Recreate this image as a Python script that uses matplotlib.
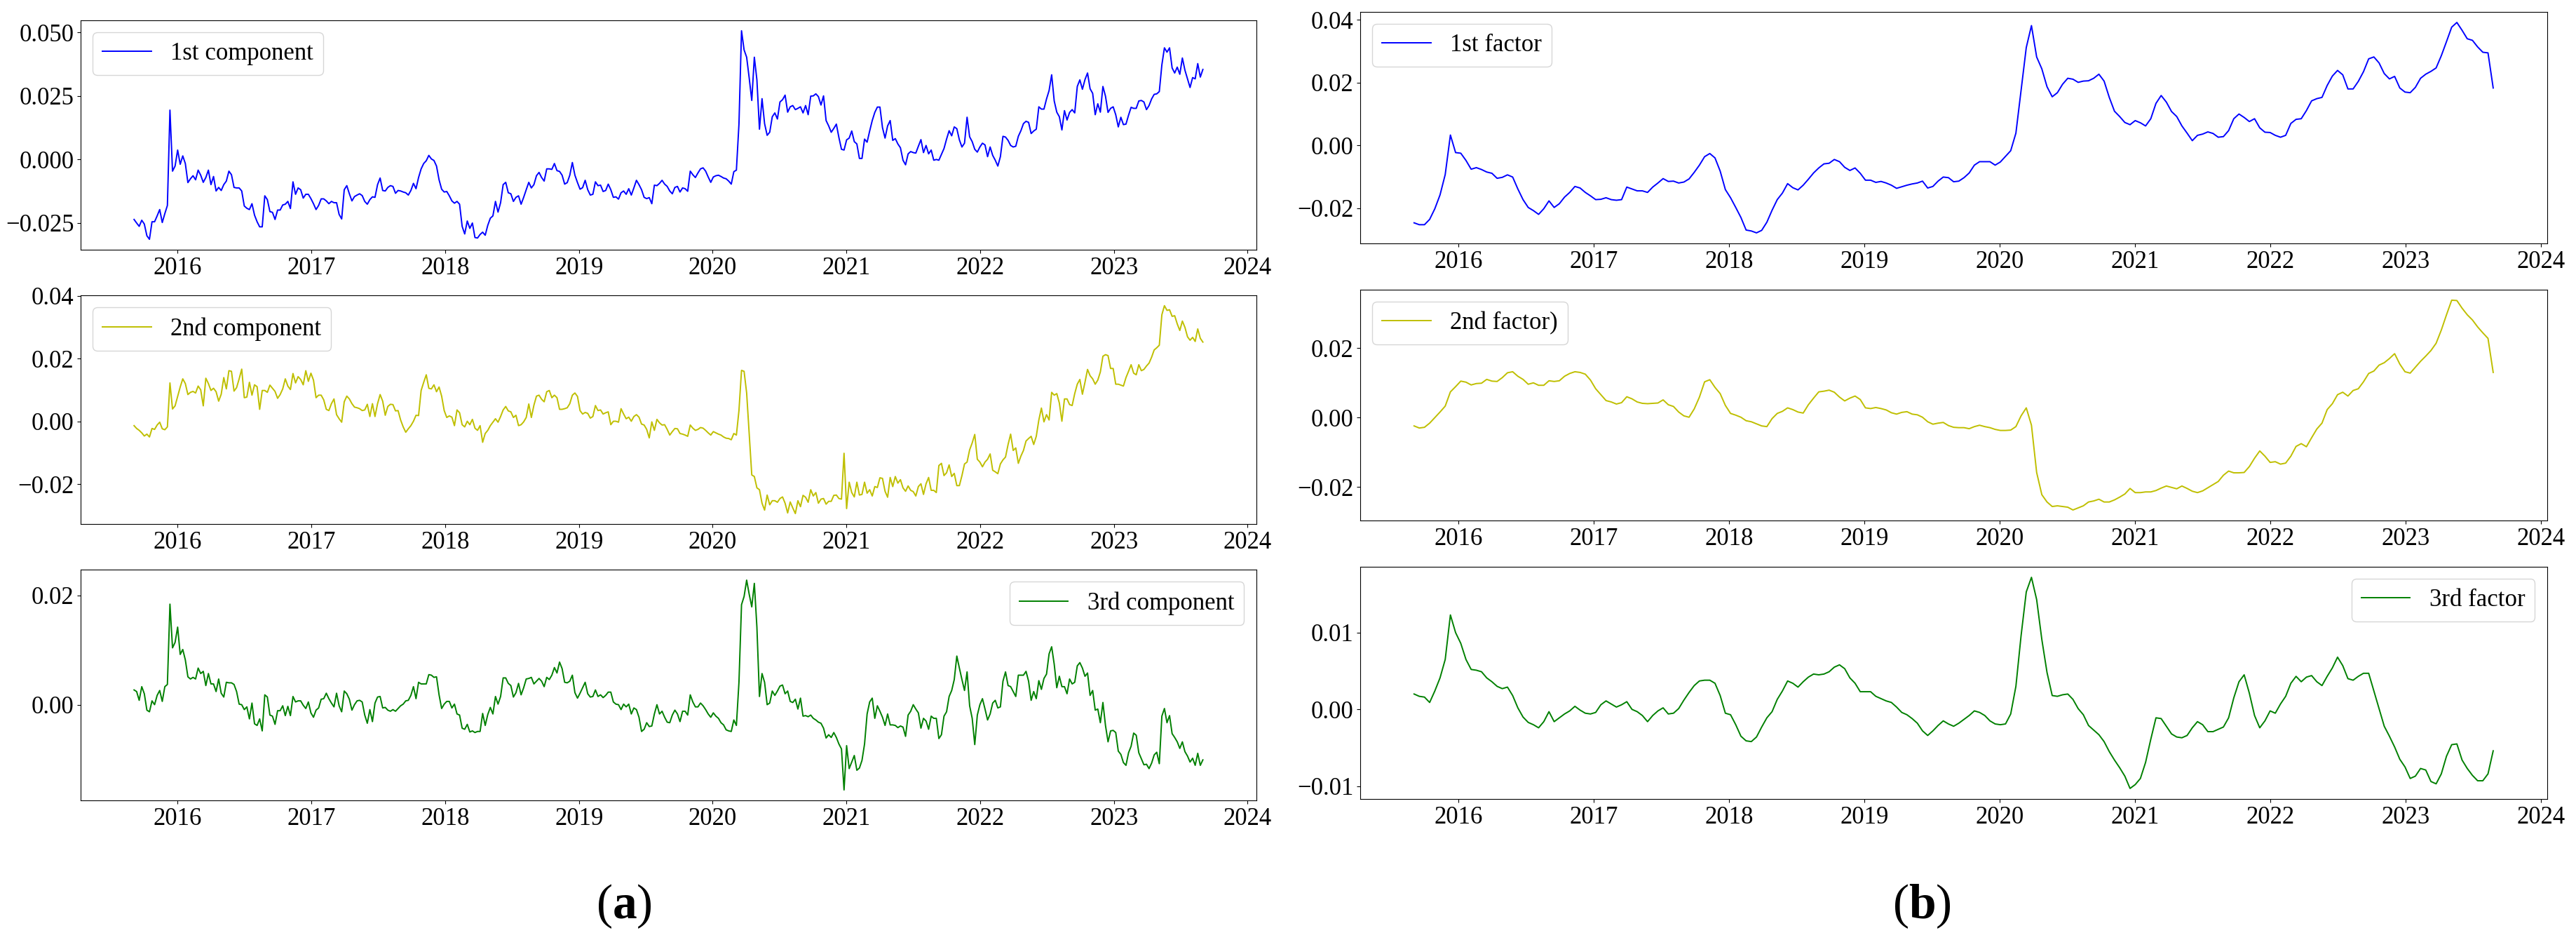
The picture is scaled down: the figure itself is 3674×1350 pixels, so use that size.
import numpy as np
import pandas as pd
import matplotlib
matplotlib.use('Agg')
import matplotlib.pyplot as plt
import matplotlib.dates as mdates

plt.rcParams['font.family'] = ['Liberation Serif', 'DejaVu Serif']
plt.rcParams['mathtext.fontset'] = 'custom'
plt.rcParams['mathtext.rm'] = 'Liberation Serif'
plt.rcParams['mathtext.bf'] = 'Liberation Serif:bold'
FONT_SIZE = 25

# weekly principal components (left) and smoothed factors (right), values in 1e-3
weeks = pd.date_range('2015-09-04', periods=418, freq='7D')
fortnights = pd.date_range('2015-09-04', periods=209, freq='14D')

comp_1 = np.array([
    -23.6, -25.0, -26.3, -23.9, -25.4, -30.0, -31.4, -24.5, -24.5, -22.2,
    -19.7, -24.8, -21.3, -18.1, 19.4, -4.6, -2.6, 3.7, -1.9, 1.4,
    -1.6, -9.1, -7.6, -6.4, -8.0, -4.2, -6.2, -9.0, -7.1, -4.2,
    -9.9, -6.7, -12.4, -11.0, -12.2, -9.9, -8.5, -4.6, -6.0, -11.0,
    -11.2, -11.2, -12.4, -18.3, -19.2, -19.7, -17.4, -21.9, -24.5, -26.5,
    -26.5, -14.3, -15.8, -20.5, -20.8, -23.6, -19.9, -19.9, -17.9, -17.6,
    -16.5, -19.3, -8.8, -13.7, -11.2, -11.9, -15.2, -13.7, -13.7, -15.4,
    -17.4, -19.7, -18.1, -15.5, -15.5, -16.3, -17.4, -16.5, -17.0, -17.0,
    -21.6, -23.4, -11.9, -10.3, -13.5, -16.3, -14.6, -14.0, -13.5, -14.2,
    -16.5, -17.6, -15.8, -14.7, -14.9, -9.9, -7.3, -12.2, -12.4, -11.0,
    -10.3, -10.6, -13.3, -12.2, -12.4, -12.8, -13.1, -14.0, -12.2, -9.4,
    -11.5, -7.1, -3.7, -1.6, -0.5, 1.6, 0.2, -0.4, -2.6, -8.0,
    -11.7, -12.8, -12.6, -14.3, -16.3, -17.2, -16.5, -17.6, -26.3, -29.3,
    -24.2, -27.1, -25.0, -30.7, -30.9, -29.5, -28.6, -29.8, -25.9, -23.1,
    -22.2, -16.5, -20.7, -17.0, -9.9, -9.0, -13.1, -13.5, -16.5, -14.9,
    -14.3, -17.6, -14.9, -11.9, -9.0, -11.2, -9.9, -6.4, -5.1, -7.1,
    -8.5, -3.7, -3.7, -3.9, -1.6, -4.4, -4.7, -6.2, -9.7, -9.1,
    -6.2, -1.2, -6.2, -9.1, -11.7, -11.1, -8.2, -11.9, -14.0, -13.7,
    -8.8, -10.3, -10.1, -12.6, -12.2, -9.7, -11.9, -14.9, -14.7, -15.6,
    -13.1, -12.4, -13.7, -11.5, -14.0, -11.2, -8.2, -9.9, -11.9, -14.9,
    -15.4, -15.0, -17.4, -10.1, -10.3, -9.4, -8.2, -9.7, -10.6, -12.4,
    -13.5, -11.0, -10.6, -12.8, -11.2, -11.5,
    -12.5, -4.6, -6.0, -7.1, -5.3, -3.7, -3.3, -4.6, -6.9, -9.0,
    -6.9, -6.4, -6.2, -6.7, -7.3, -7.6, -8.5, -9.7, -4.8, -4.2,
    13.9, 50.6, 43.1, 40.2, 32.0, 23.2, 40.2, 31.3, 11.9, 23.9,
    14.1, 9.5, 10.7, 16.8, 18.3, 15.9, 22.6, 23.5, 25.3, 18.6,
    20.7, 21.2, 19.6, 20.1, 20.7, 18.3, 21.2, 17.6, 24.9, 25.0,
    25.8, 24.7, 21.4, 25.0, 15.3, 13.2, 10.7, 12.2, 13.9, 8.6,
    4.0, 3.7, 7.7, 8.4, 11.2, 7.0, 6.1, 0.4, 0.4, 8.0,
    6.8, 11.2, 15.3, 18.5, 20.6, 20.6, 12.5, 8.4, 13.2, 15.3,
    7.5, 8.2, 6.1, 4.6, -0.3, -2.1, 2.2, 3.1, 2.7, 2.5,
    5.2, 7.8, 2.7, 5.5, 2.2, 3.7, -0.3, 0.0, -0.3, 2.0,
    4.3, 8.0, 11.3, 9.3, 12.8, 12.1, 7.7, 4.9, 6.4, 16.6,
    8.9, 7.0, 4.0, 2.9, 4.9, 6.4, 5.7, 1.1, 4.9, 1.6,
    -0.3, -2.6, 1.1, 9.1, 8.8, 7.5, 5.5, 4.9, 5.2, 9.1,
    11.3, 14.1, 15.0, 14.6, 10.2, 11.2, 11.9, 20.7, 19.8, 19.8,
    23.8, 27.1, 33.3, 23.0, 18.6, 16.8, 11.6, 19.2, 15.5, 18.5,
    19.6, 18.3, 28.7, 31.3, 27.6, 31.4, 34.0, 27.8, 26.0, 17.6,
    21.9, 18.6, 28.7, 24.9, 18.5, 20.1, 20.7, 17.6, 12.8, 16.6,
    13.7, 13.9, 17.4, 20.5, 20.1, 20.1, 23.0, 23.2, 22.6, 19.6,
    21.2, 23.8, 25.6, 25.8, 26.7, 37.2, 43.9, 42.2, 43.9, 36.0,
    34.0, 36.3, 33.5, 39.9, 35.1, 31.7, 28.3, 32.2, 31.7, 37.7,
    32.4, 35.4]) / 1000

comp_2 = np.array([
    -1.3, -2.2, -2.8, -3.6, -4.6, -4.0, -4.9, -2.2, -2.5, -1.1,
    -0.2, -2.3, -2.6, -1.7, 12.3, 4.0, 5.0, 8.0, 11.0, 13.6,
    12.1, 8.6, 9.3, 9.6, 9.1, 11.3, 10.1, 5.0, 13.8, 12.1,
    9.9, 10.6, 9.5, 6.5, 8.7, 14.0, 10.4, 16.2, 16.0, 9.7,
    10.8, 13.6, 16.7, 7.6, 7.8, 12.5, 8.4, 11.7, 11.1, 3.9,
    9.9, 9.9, 9.3, 11.6, 10.6, 9.6, 7.4, 8.6, 10.4, 13.6,
    11.3, 10.2, 15.3, 12.3, 14.3, 13.4, 11.7, 16.2, 12.8, 15.4,
    13.2, 7.6, 8.4, 8.4, 6.9, 3.9, 3.5, 5.7, 7.2, 2.2,
    0.9, -0.2, 6.3, 8.1, 7.2, 5.7, 4.6, 4.4, 4.1, 3.5,
    3.7, 5.5, 1.6, 5.7, 1.6, 5.7, 8.6, 6.5, 2.0, 4.8,
    5.5, 5.4, 3.4, 3.5, 0.5, -1.7, -3.4, -2.3, -1.3, 0.1,
    2.0, 1.9, 9.9, 12.5, 14.9, 10.6, 10.4, 11.7, 9.5, 11.0,
    8.1, 3.5, 1.3, 1.8, 1.4, -1.3, 3.7, 2.8, -1.0, -1.7,
    0.1, -1.0, 0.7, -2.1, -2.8, -1.3, -6.6, -3.8, -2.8, -1.3,
    -0.2, 0.9, -0.2, 1.6, 3.7, 4.8, 3.4, 3.1, 1.3, 2.0,
    -1.3, -1.0, -0.1, 1.3, 5.6, 1.3, 5.2, 8.1, 8.4, 7.1,
    6.3, 9.5, 9.9, 7.6, 8.4, 7.6, 3.9, 3.9, 4.1, 4.4,
    5.7, 8.4, 9.1, 8.0, 3.5, 2.4, 2.9, 2.6, 1.1, 1.6,
    5.1, 3.5, 3.7, 2.4, 2.8, 3.1, -1.0, 0.1, 0.1, -0.2,
    4.1, 2.4, 0.9, 1.4, 0.1, 1.6, 2.2, 1.4, -0.8, -1.1,
    -2.5, -5.2, -0.1, -2.8, 0.7, -0.4, -1.1, -1.0, -2.5, -4.3,
    -3.2, -2.2, -2.3, -3.8, -4.0, -4.3,
    -4.7, -1.1, -2.1, -2.8, -2.5, -1.9, -2.1, -2.8, -3.6, -4.3,
    -3.2, -3.6, -4.0, -4.3, -4.9, -5.3, -5.4, -5.8, -3.8, -4.3,
    3.5, 16.3, 16.0, 9.1, -4.0, -17.0, -17.5, -21.1, -21.7, -26.0,
    -28.2, -23.4, -26.5, -25.2, -25.2, -25.7, -24.5, -24.0, -26.0, -29.1,
    -25.6, -27.5, -29.3, -25.2, -27.1, -23.5, -24.1, -25.7, -21.7, -23.7,
    -22.6, -26.0, -24.7, -24.5, -26.3, -25.4, -25.4, -23.5, -23.4, -24.5,
    -24.7, -10.1, -27.7, -19.3, -22.6, -24.0, -19.3, -23.4, -23.2, -19.3,
    -22.8, -21.7, -23.7, -20.7, -21.0, -17.9, -18.1, -22.2, -24.1, -17.8,
    -20.7, -17.5, -19.6, -18.5, -21.1, -22.2, -20.5, -21.9, -22.3, -23.7,
    -20.7, -19.8, -23.2, -19.8, -17.8, -21.9, -21.9, -22.6, -14.0, -13.3,
    -17.2, -16.3, -13.8, -17.5, -16.5, -20.4, -20.4, -17.2, -13.5, -12.9,
    -9.0, -6.8, -4.1, -12.0, -12.9, -14.4, -12.9, -12.0, -10.3, -15.5,
    -16.0, -16.6, -13.5, -12.2, -11.3, -7.3, -4.0, -9.2, -8.4, -13.3,
    -11.0, -9.2, -6.2, -5.4, -4.7, -7.3, -4.7, 0.5, 4.3, -0.1,
    2.2, 0.5, 9.3, 8.4, 8.9, 5.9, 0.1, 7.2, 7.2, 5.4,
    5.1, 8.9, 11.9, 13.4, 8.7, 12.5, 16.6, 14.6, 13.6, 11.9,
    13.2, 15.8, 20.8, 21.3, 21.0, 16.9, 16.9, 11.9, 11.9, 11.6,
    11.3, 14.0, 16.0, 18.1, 15.4, 14.9, 18.1, 16.2, 16.6, 17.7,
    18.6, 20.5, 22.8, 23.5, 24.3, 34.0, 36.9, 35.4, 35.6, 33.5,
    33.7, 31.1, 29.0, 32.0, 30.0, 27.0, 25.9, 26.8, 25.5, 29.5,
    26.5, 25.3]) / 1000

comp_3 = np.array([
    2.7, 2.4, 0.8, 3.3, 2.0, -1.0, -1.3, 0.7, 0.0, 1.7,
    2.6, 0.6, 3.3, 3.7, 18.4, 10.4, 11.4, 14.2, 9.2, 10.1,
    8.2, 5.1, 4.7, 5.0, 4.7, 6.7, 5.7, 6.1, 3.5, 5.7,
    3.8, 3.8, 2.4, 4.7, 2.1, 1.4, 4.1, 4.0, 4.0, 3.7,
    2.4, 0.1, 0.0, -0.9, -0.4, -2.6, 0.3, -3.5, -3.8, -2.6,
    -4.8, 1.8, 1.4, -1.9, -2.1, -3.6, -1.1, -1.1, -0.2, -2.0,
    -0.3, -2.0, 1.5, 0.5, 0.7, 0.7, -0.1, -0.7, 0.5, -1.5,
    -2.3, -1.0, -0.6, 1.0, 1.1, 2.1, 1.1, 0.3, -0.4, 2.1,
    -0.2, -1.3, 2.5, 2.0, 1.0, -1.0, 0.0, 0.7, 0.8, 0.5,
    -1.9, -3.4, -0.9, -3.1, 0.3, 1.4, 1.5, -0.6, -0.5, -1.0,
    -1.2, -0.9, -1.2, -0.7, -0.2, 0.1, 0.7, 0.8, 1.7, 3.3,
    1.1, 4.1, 3.8, 3.8, 3.8, 5.5, 5.4, 5.0, 5.1, 1.8,
    -0.7, 0.1, 0.6, 0.6, -0.6, 0.1, -1.7, -1.9, -4.3, -4.5,
    -3.6, -5.0, -4.8, -5.1, -4.9, -4.9, -1.6, -3.8, -1.8, -0.5,
    -1.7, 1.5, 0.1, 1.5, 4.9, 4.9, 3.9, 3.5, 1.4, 2.2,
    3.9, 1.8, 3.1, 4.7, 4.8, 5.0, 3.8, 4.3, 4.8, 4.3,
    3.3, 5.0, 4.6, 5.4, 6.8, 5.8, 7.8, 6.6, 4.1, 4.0,
    4.3, 5.4, 2.2, 1.2, 2.1, 3.1, 4.1, 2.0, 1.4, 1.5,
    2.7, 1.5, 1.8, 1.3, 1.7, 2.3, 2.3, 0.5, 0.1, 0.0,
    -0.9, 0.1, -0.4, 0.1, -1.7, -0.6, -0.9, -2.3, -4.9, -4.5,
    -3.3, -4.0, -3.9, -1.7, 0.0, -1.7, -1.2, -2.3, -3.2, -3.3,
    -1.9, -1.0, -1.7, -3.1, -1.2, -1.2,
    -1.9, 1.8, 0.5, -0.4, -0.4, 0.3, -0.2, -0.9, -1.7, -2.3,
    -1.5, -2.1, -2.5, -3.3, -3.7, -4.6, -4.8, -4.9, -2.8, -3.8,
    4.1, 18.3, 19.8, 22.8, 20.2, 17.9, 22.2, 14.2, 1.5, 5.7,
    4.1, 0.0, 0.3, 2.5, 1.7, 2.5, 3.4, 3.6, 2.0, 2.5,
    0.6, 0.4, 1.0, -0.8, 1.2, -2.1, -2.0, -2.2, -1.9, -2.5,
    -2.8, -3.2, -3.4, -4.3, -6.1, -5.5, -6.0, -5.1, -6.0, -7.2,
    -8.1, -15.6, -7.5, -11.7, -10.5, -9.3, -12.0, -11.6, -10.2, -7.2,
    -1.7, 0.5, 1.2, -2.5, -0.2, -1.2, -2.3, -3.8, -1.7, -3.7,
    -3.7, -3.8, -4.2, -3.9, -4.1, -5.8, -1.9, -1.2, 0.0, -0.8,
    -1.5, -4.3, -2.5, -3.0, -4.5, -2.1, -2.5, -2.5, -6.2, -5.5,
    -2.1, -1.3, 1.5, 2.6, 4.6, 8.9, 6.7, 4.6, 2.6, 6.0,
    -0.2, -2.5, -7.3, -1.9, 0.0, 1.1, -0.8, -2.8, -1.7, 0.3,
    0.8, -0.6, -0.4, 4.3, 6.0, 3.5, 3.3, 2.4, 1.5, 5.4,
    5.4, 5.4, 6.1, 4.3, 0.8, 2.4, 1.1, 4.4, 2.8, 4.8,
    5.6, 9.3, 10.6, 7.4, 3.1, 5.2, 3.3, 3.3, 2.0, 4.7,
    3.8, 4.1, 7.1, 7.7, 6.7, 5.2, 5.8, 1.7, 2.6, -1.0,
    -0.8, -3.3, 0.4, -3.8, -6.8, -4.8, -4.7, -5.1, -8.5, -9.1,
    -10.6, -11.1, -8.8, -7.6, -5.2, -5.6, -8.8, -9.9, -11.0, -10.9,
    -11.7, -10.7, -9.2, -8.7, -10.8, -2.1, -0.7, -3.3, -2.0, -5.3,
    -6.0, -6.8, -8.0, -6.8, -8.6, -9.4, -10.5, -9.8, -11.1, -8.9,
    -11.1, -10.1]) / 1000

factor_1 = np.array([
    -24.7, -25.3, -25.3, -23.6, -20.2, -15.8, -9.3, 3.3, -2.3, -2.5,
    -4.8, -7.6, -7.1, -7.7, -8.5, -8.9, -10.5, -10.2, -9.4, -10.1,
    -13.9, -17.3, -19.8, -20.8, -22.0, -20.2, -17.7, -19.8, -18.6, -16.5,
    -15.0, -13.1, -13.6, -15.0, -16.1, -17.3, -17.2, -16.7, -17.3, -17.5,
    -17.3, -13.3, -13.9, -14.5, -14.5, -15.0, -13.3, -12.0, -10.6, -11.5,
    -11.4, -12.0, -11.7, -10.7, -8.6, -6.3, -3.6, -2.6, -4.0, -8.2,
    -14.1, -16.7, -19.8, -23.0, -27.0, -27.3, -27.9, -27.1, -24.5, -20.7,
    -17.3, -15.2, -12.2, -13.5, -14.2, -12.7, -10.8, -8.8, -7.2, -5.9,
    -5.7, -4.5, -5.2, -7.0, -8.0, -7.2, -8.9, -11.1, -11.1, -11.8,
    -11.5, -12.0, -12.7, -13.7, -13.2, -12.7, -12.3, -12.0, -11.4, -13.6,
    -13.1, -11.4, -10.1, -10.3, -11.6, -11.4, -10.3, -8.8, -6.3, -5.2,
    -5.2, -5.2, -6.3, -5.3, -3.5, -1.7, 3.9, 17.6, 31.2, 38.2,
    28.2, 24.4, 18.7, 15.5, 16.8, 19.5, 21.4, 21.1, 20.1, 20.5,
    20.6, 21.4, 22.7, 20.5, 15.3, 10.9, 9.2, 7.3, 6.6, 7.9,
    7.2, 6.2, 8.5, 13.4, 15.9, 13.8, 10.8, 9.2, 6.2, 3.9,
    1.5, 3.2, 3.6, 4.3, 3.8, 2.6, 2.8, 4.7, 8.5, 10.0,
    8.9, 7.6, 8.5, 5.6, 4.2, 4.1, 3.2, 2.6, 3.2, 7.0,
    8.3, 8.5, 11.1, 14.2, 14.9, 15.3, 19.1, 22.1, 23.9, 22.5,
    18.0, 18.0, 20.4, 23.5, 27.6, 28.2, 26.3, 22.9, 21.2, 22.0,
    18.3, 17.0, 16.8, 18.5, 21.4, 22.7, 23.6, 24.7, 28.6, 33.1,
    37.7, 39.2, 36.7, 34.0, 33.5, 31.4, 29.7, 29.5, 18.3]) / 1000

factor_2 = np.array([
    -2.4, -3.0, -2.8, -1.6, 0.0, 1.6, 3.3, 7.4, 8.9, 10.5,
    10.2, 9.4, 9.8, 9.9, 11.0, 10.5, 10.4, 11.5, 12.9, 13.2,
    11.9, 11.0, 9.6, 10.0, 9.3, 9.3, 10.6, 10.4, 10.6, 11.9,
    12.7, 13.2, 13.0, 12.5, 10.8, 8.3, 6.6, 4.9, 4.5, 3.9,
    4.3, 6.0, 5.4, 4.5, 4.1, 4.0, 4.1, 4.2, 5.1, 3.7,
    3.2, 1.6, 0.5, 0.1, 2.5, 5.9, 10.3, 10.9, 8.7, 6.9,
    3.5, 1.2, 0.7, 0.1, -0.9, -1.2, -1.8, -2.4, -2.6, -0.3,
    1.2, 1.8, 2.8, 2.3, 1.6, 1.3, 3.7, 5.6, 7.4, 7.6,
    7.9, 7.3, 5.9, 4.8, 5.6, 6.2, 5.2, 2.8, 2.6, 2.9,
    2.6, 2.2, 1.4, 1.0, 1.5, 1.7, 1.0, 0.8, 0.1, -1.2,
    -1.9, -1.6, -1.4, -2.3, -2.8, -2.9, -2.9, -3.2, -2.6, -2.2,
    -2.6, -2.9, -3.4, -3.7, -3.7, -3.6, -2.6, 0.5, 2.8, -2.2,
    -15.8, -22.2, -24.3, -25.6, -25.4, -25.6, -25.8, -26.6, -26.0, -25.4,
    -24.3, -24.0, -23.5, -24.3, -24.3, -23.7, -22.9, -22.0, -20.4, -21.6,
    -21.6, -21.4, -21.4, -21.0, -20.3, -19.7, -20.1, -20.5, -19.7, -20.4,
    -21.2, -21.6, -21.1, -20.2, -19.3, -18.4, -16.6, -15.4, -15.9, -15.9,
    -15.8, -14.1, -11.7, -9.6, -11.1, -12.9, -12.7, -13.4, -13.1, -11.1,
    -8.3, -7.5, -8.4, -5.8, -3.3, -1.6, 2.3, 4.0, 6.6, 7.3,
    6.2, 7.8, 8.3, 10.3, 12.7, 13.4, 15.1, 15.8, 17.0, 18.4,
    15.4, 13.2, 12.8, 14.5, 16.2, 17.7, 19.3, 21.4, 25.2, 29.6,
    33.8, 33.7, 31.5, 29.6, 28.1, 26.1, 24.4, 22.8, 13.0]) / 1000

factor_3 = np.array([
    2.0, 1.7, 1.6, 0.9, 2.4, 4.1, 6.5, 12.3, 10.0, 8.6,
    6.5, 5.2, 5.1, 4.9, 4.1, 3.6, 3.0, 2.7, 2.9, 1.8,
    0.2, -1.0, -1.7, -2.0, -2.4, -1.6, -0.3, -1.6, -1.1, -0.6,
    -0.2, 0.4, -0.1, -0.5, -0.6, -0.4, 0.6, 1.1, 0.7, 0.3,
    0.6, 1.0, 0.0, -0.3, -0.8, -1.6, -0.8, -0.2, 0.2, -0.6,
    -0.5, 0.1, 1.2, 2.2, 3.1, 3.7, 3.8, 3.8, 3.4, 1.8,
    -0.5, -0.7, -2.0, -3.5, -4.1, -4.2, -3.6, -2.3, -1.1, -0.3,
    1.3, 2.4, 3.7, 3.4, 2.9, 3.6, 4.2, 4.6, 4.5, 4.6,
    4.9, 5.5, 5.8, 5.3, 4.1, 3.4, 2.3, 2.3, 2.3, 1.7,
    1.4, 1.1, 0.9, 0.3, -0.4, -0.7, -1.2, -1.8, -2.8, -3.4,
    -2.8, -2.1, -1.5, -1.9, -2.2, -1.8, -1.3, -0.8, -0.2, -0.4,
    -0.8, -1.5, -1.9, -2.0, -1.9, -0.6, 3.0, 9.6, 15.3, 17.2,
    14.3, 9.1, 4.8, 1.8, 1.7, 1.9, 2.0, 1.3, 0.1, -0.7,
    -2.1, -2.7, -3.3, -4.2, -5.5, -6.6, -7.6, -8.7, -10.3, -9.8,
    -9.0, -6.9, -3.9, -1.1, -1.2, -2.2, -3.2, -3.6, -3.7, -3.4,
    -2.4, -1.6, -2.0, -2.9, -2.9, -2.6, -2.3, -1.1, 1.5, 3.6,
    4.5, 2.1, -0.8, -2.4, -1.5, -0.2, -0.5, 0.7, 1.7, 3.4,
    4.3, 3.6, 4.2, 4.4, 3.6, 3.1, 4.3, 5.4, 6.8, 5.7,
    4.0, 3.8, 4.3, 4.7, 4.7, 2.4, 0.1, -2.2, -3.5, -4.9,
    -6.5, -7.5, -9.0, -8.7, -7.7, -7.9, -9.4, -9.7, -8.4, -6.1,
    -4.6, -4.5, -6.6, -7.7, -8.6, -9.3, -9.3, -8.4, -5.4]) / 1000

left_labels = ['1st component', '2nd component', '3rd component']
right_labels = ['1st factor', '2nd factor)', '3rd factor']
colors = ['b', 'y', 'g']
legend_locs = ['upper left', 'upper left', 'upper right']
left_yticks = [[-0.025, 0.0, 0.025, 0.05], [-0.02, 0.0, 0.02, 0.04], [0.0, 0.02]]
right_yticks = [[-0.02, 0.0, 0.02, 0.04], [-0.02, 0.0, 0.02], [-0.01, 0.0, 0.01]]

fig = plt.figure(figsize=(36.74, 13.5), dpi=100)

left_boxes = [[0.0313, 0.7363, 0.4564, 0.2422],
              [0.0313, 0.4467, 0.4564, 0.2415],
              [0.0313, 0.1548, 0.4564, 0.2437]]
right_boxes = [[0.5280, 0.7430, 0.4608, 0.2444],
               [0.5280, 0.4504, 0.4608, 0.2437],
               [0.5280, 0.1563, 0.4608, 0.2452]]


def draw(box, x, y, color, label, loc, yticks):
    ax = fig.add_axes(box)
    ax.plot(x, y, color=color, linewidth=1.4, label=label)
    ax.set_yticks(yticks)
    ax.xaxis.set_major_locator(mdates.YearLocator())
    ax.xaxis.set_major_formatter(mdates.DateFormatter('%Y'))
    ax.tick_params(labelsize=FONT_SIZE)
    ax.legend(loc=loc, fontsize=FONT_SIZE)
    return ax


for i, series in enumerate([comp_1, comp_2, comp_3]):
    draw(left_boxes[i], weeks, series, colors[i], left_labels[i],
         legend_locs[i], left_yticks[i])

for i, series in enumerate([factor_1, factor_2, factor_3]):
    draw(right_boxes[i], fortnights, series, colors[i], right_labels[i],
         legend_locs[i], right_yticks[i])

fig.text(0.2422, 0.043, r'($\mathbf{a}$)', fontsize=50, ha='center', va='center')
fig.text(0.7461, 0.043, r'($\mathbf{b}$)', fontsize=50, ha='center', va='center')

fig.savefig('out.png', dpi=100)
